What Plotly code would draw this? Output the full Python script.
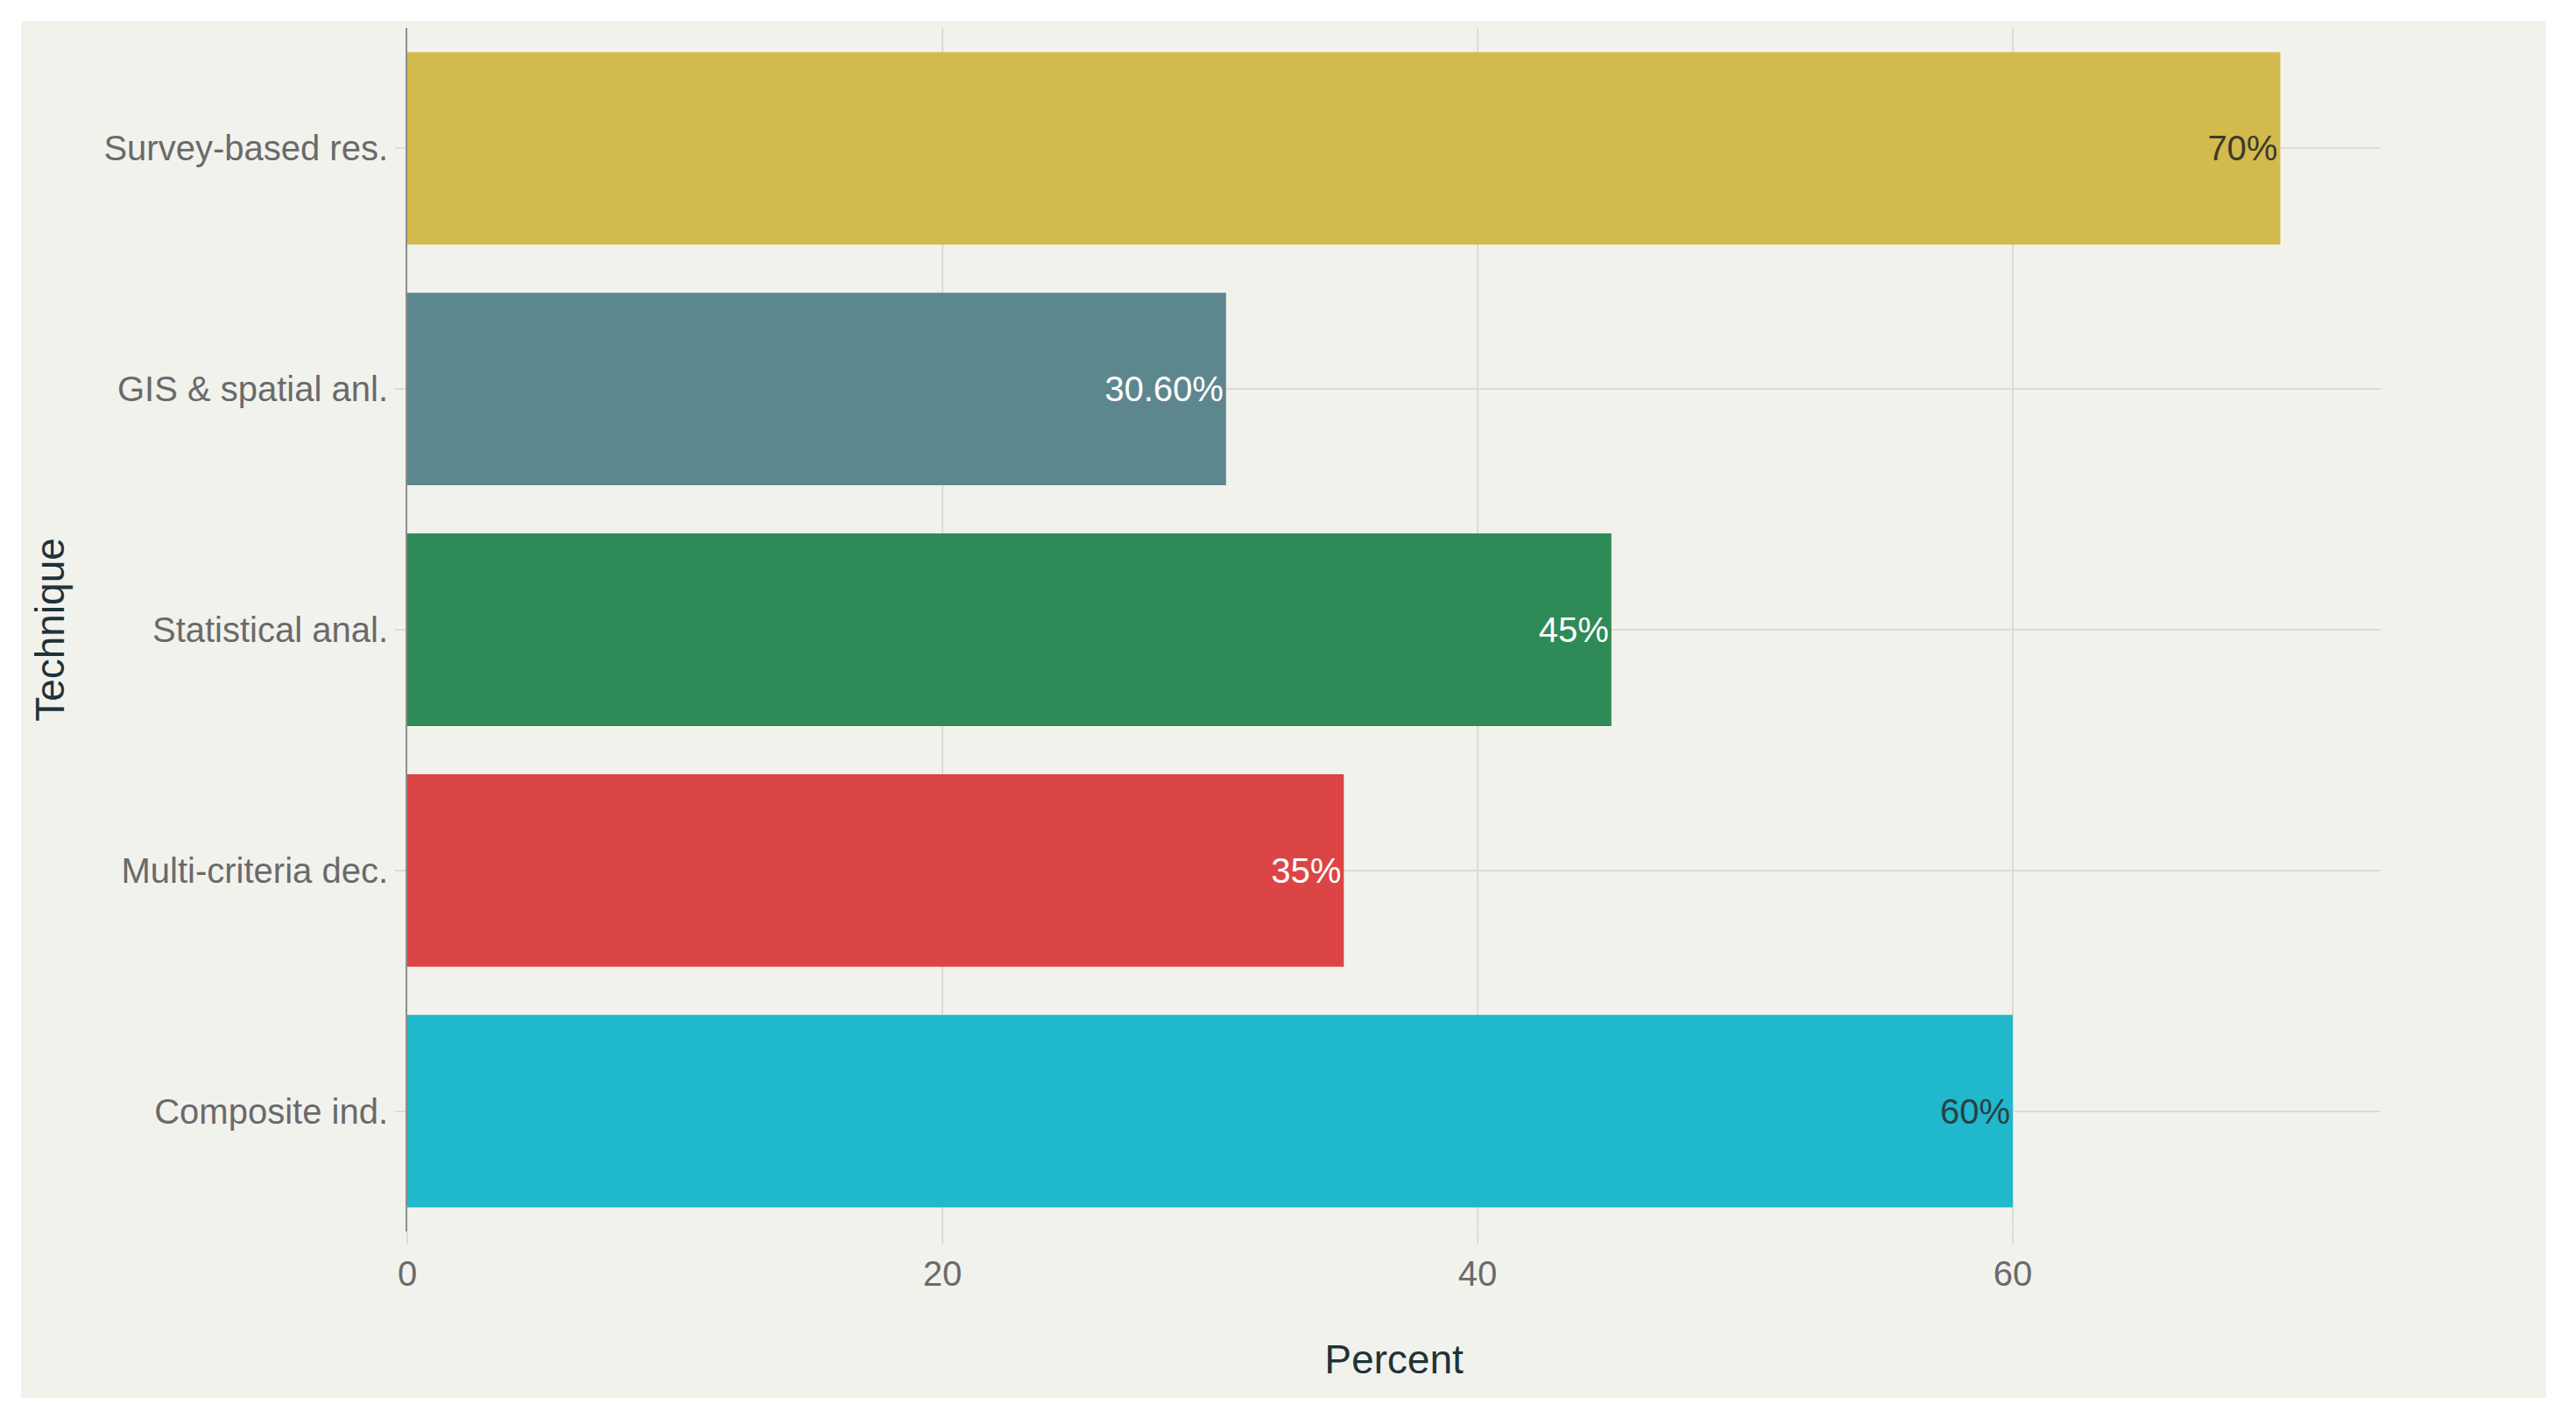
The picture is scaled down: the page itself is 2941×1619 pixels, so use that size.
import plotly.graph_objects as go

# Data (bottom to top order as plotted)
techniques = ["Composite ind.", "Multi-criteria dec.", "Statistical anal.", "GIS & spatial anl.", "Survey-based res."]
percent = [60, 35, 45, 30.6, 70]
labels = ["60%", "35%", "45%", "30.60%", "70%"]
colors = ["#1FB8CD", "#DB4545", "#2E8B57", "#5D878F", "#D2BA4C"]
text_colors = ["#2b3f45", "#ffffff", "#ffffff", "#ffffff", "#3d3a2a"]
x_ticks = [0, 20, 40, 60]

W, H = 2941, 1619
L, R, T, B = 465, 223, 32, 213
pw, ph = W - L - R, H - T - B

fig = go.Figure()
fig.add_trace(go.Bar(
    y=techniques,
    x=percent,
    orientation="h",
    marker=dict(color=colors, line=dict(width=0)),
    text=labels,
    textposition="inside",
    insidetextanchor="end",
    textangle=0,
    textfont=dict(color=text_colors, size=40, family="Liberation Sans, Arial, sans-serif"),
    cliponaxis=False,
    showlegend=False,
))

# light panel behind the chart (white frame around it)
px0, px1, py0, py1 = 24, 2907, 24, 1596
fig.add_shape(
    type="rect", xref="paper", yref="paper", layer="below",
    x0=(px0 - L) / pw, x1=(px1 - L) / pw,
    y0=(H - B - py1) / ph, y1=(H - B - py0) / ph,
    fillcolor="#F2F2ED", line=dict(width=0),
)

fig.update_layout(
    width=W, height=H,
    margin=dict(l=L, r=R, t=T, b=B, autoexpand=False),
    paper_bgcolor="#FFFFFF",
    plot_bgcolor="rgba(0,0,0,0)",
    bargap=0.2,
    font=dict(family="Liberation Sans, Arial, sans-serif", size=40, color="#6a6a6a"),
    xaxis=dict(
        range=[0, 73.75],
        tickvals=x_ticks,
        showgrid=True, gridcolor="#DCDCD6", gridwidth=2,
        zeroline=False, showline=False,
        ticks="outside", ticklen=13, tickcolor="#DCDCD6", tickwidth=2,
        tickfont=dict(size=40, color="#6a6a6a"),
        title=dict(text="Percent", font=dict(size=46, color="#1F3338"), standoff=60),
        automargin=False,
    ),
    yaxis=dict(
        range=[-0.5, 4.5],
        showgrid=True, gridcolor="#DCDCD6", gridwidth=2,
        showline=True, linecolor="#8C8C8C", linewidth=2,
        ticks="outside", ticklen=12, tickcolor="#DCDCD6", tickwidth=2,
        tickfont=dict(size=40, color="#6a6a6a"),
        title=dict(text="Technique", font=dict(size=46, color="#1F3338"), standoff=30),
        automargin=False,
    ),
)

fig.write_html("out.html")
